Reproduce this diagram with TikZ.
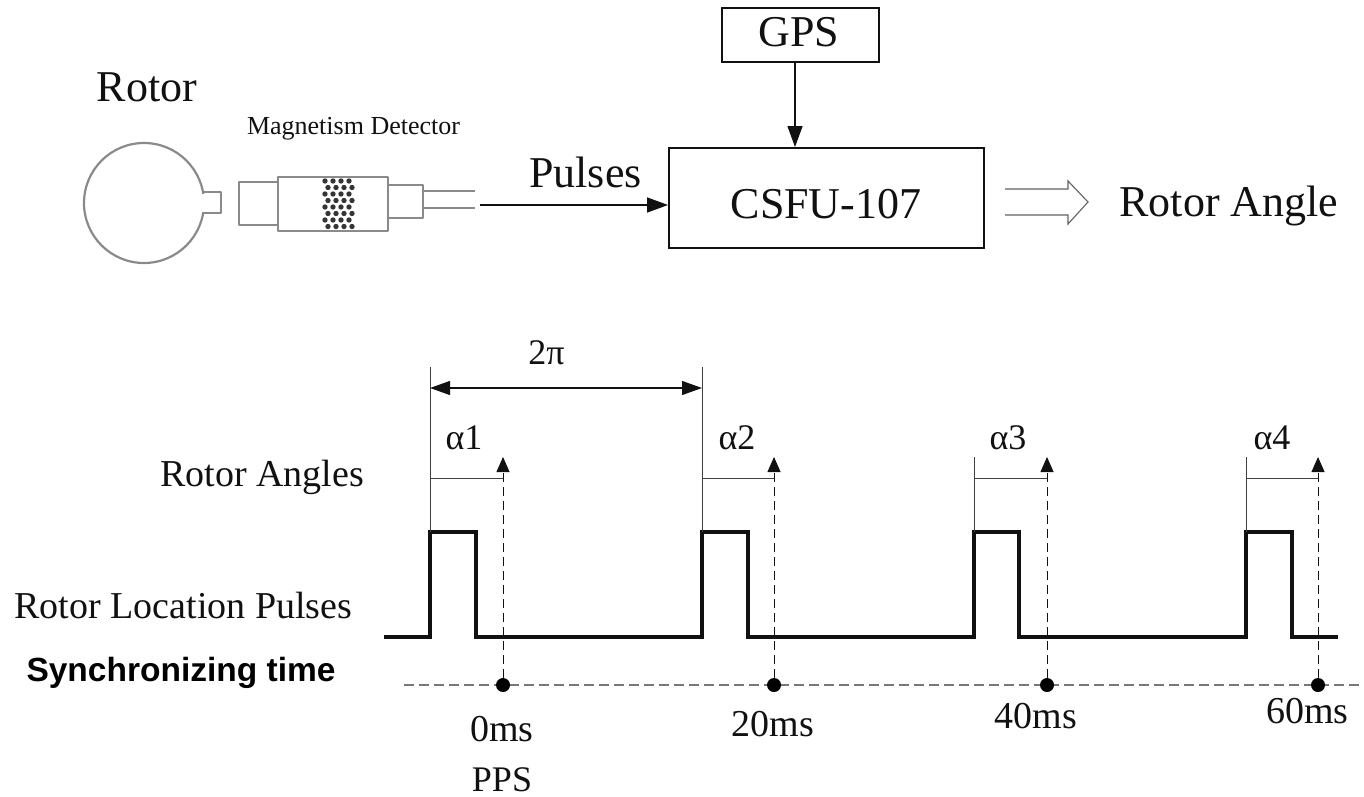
\documentclass[tikz,border=0pt]{standalone}
\usepackage{fontspec}
\setmainfont{Liberation Serif}
\newfontfamily\labelsans{Liberation Sans}
\usepackage{xcolor}
\usetikzlibrary{
  arrows.meta,
  positioning,
  calc
}
\definecolor{rsInk}{HTML}{111111}
\definecolor{rsPencil}{HTML}{8A8A8A}
\definecolor{rsDash}{HTML}{777777}
\tikzset{
  blockbox/.style={draw=rsInk, line width=1.9pt, inner sep=0pt, align=center},
  biglabel/.style={font=\fontsize{44}{44}\selectfont, inner sep=0pt, text=rsInk, anchor=base},
  midlabel/.style={font=\fontsize{38}{38}\selectfont, inner sep=0pt, text=rsInk, anchor=base},
  smalllabel/.style={font=\fontsize{36}{36}\selectfont, inner sep=0pt, text=rsInk, anchor=base},
  flow/.style={-{Triangle[length=21pt, width=15pt]}, line width=1.2pt, rsInk},
  sketch/.style={draw=rsPencil, line width=2.2pt, line join=round},
  pulse/.style={line width=3.6pt, rsInk, line join=miter},
  thinline/.style={line width=1pt, rsInk!80},
  guide/.style={line width=0.9pt, rsInk, dash pattern=on 9pt off 5pt},
  guidetip/.style={guide, -{Triangle[length=15pt, width=13pt]}},
  timeaxis/.style={line width=1.2pt, rsDash, dash pattern=on 10pt off 5pt},
  timedot/.style={circle, fill=black, inner sep=0pt, minimum size=14pt},
  span/.style={{Triangle[length=20pt, width=14pt]}-{Triangle[length=20pt, width=14pt]}, line width=1.2pt, rsInk}
}
\begin{document}
\begin{tikzpicture}[x=1pt, y=-1pt]
  \useasboundingbox (0,0) rectangle (1364,797);

  % top block diagram
  \node[blockbox, minimum width=157pt, minimum height=54pt] (gps) at (800.5,35) {};
  \node[blockbox, minimum width=315pt, minimum height=100pt] (csfu) at (826.5,198) {};
  \node[biglabel] (gpstext) at (799,47) {GPS};
  \node[biglabel] (csfutext) at (826,218) {CSFU-107};
  \coordinate (gpsout) at (795,62);
  \coordinate (pulsein) at (480,205);
  \draw[flow] (gpsout) -- (gpsout |- csfu.north);
  \draw[flow] (pulsein) -- (pulsein -| csfu.west);
  \node[biglabel] (pulses) at (585.5,187) {Pulses};
  \node[biglabel] (rotorangle) at (1229,216) {Rotor Angle};
  \node[biglabel] (rotor) at (147,102) {Rotor};
  \node[font=\fontsize{26}{26}\selectfont, inner sep=0pt, text=rsInk, anchor=base] (detector) at (353.5,135) {Magnetism Detector};

  % hollow output arrow
  \draw[line width=1.1pt, rsPencil!70!black, line join=miter]
    (1005,189) -- (1068,189) -- (1068,181) -- (1088,202) -- (1068,224) -- (1068,215) -- (1005,215);

  % rotor and detector sketch
  \draw[sketch] (200,192) -- (221,192) -- (221,213) -- (200,213);
  \draw[sketch, fill=white] (144,203) circle (60pt);
  \fill[white] (196,194) rectangle (206,212);
  \draw[sketch] (278,182) -- (239,182) -- (239,225) -- (278,225);
  \draw[sketch] (278,177) rectangle (388,231);
  \draw[sketch] (388,185) -- (423,185) -- (423,218) -- (388,218);
  \draw[sketch, line width=1.6pt] (423,191) -- (475,191);
  \draw[sketch, line width=1.6pt] (423,208) -- (475,208);
  \foreach \row in {0,...,7}{
    \foreach \col in {0,...,3}{
      \fill[rsInk!85] ({325+\col*8+mod(\row,2)*3},{181+\row*6.5}) circle (2.7pt);
    }
  }

  % pulse train
  \draw[pulse] (384,637) -- (430,637) -- (430,532) -- (476,532) -- (476,637)
    -- (702,637) -- (702,532) -- (748,532) -- (748,637)
    -- (974,637) -- (974,532) -- (1019,532) -- (1019,637)
    -- (1246,637) -- (1246,532) -- (1292,532) -- (1292,637) -- (1338,637);

  % time axis
  \coordinate (axisleft) at (404,685);
  \coordinate (axisright) at (1364,685);
  \draw[timeaxis] (axisleft) -- (axisright);

  % angle markers
  \foreach \n/\rise/\risetop/\dotx/\alphax in {1/430/367/503/464, 2/702/367/774/737, 3/974/457/1047/1008, 4/1246/457/1318/1272}{
    \node[timedot] (dot\n) at (\dotx,685) {};
    \coordinate (tip\n) at (\dotx,457);
    \coordinate (rise\n) at (\rise,478);
    \coordinate (risetop\n) at (\rise,\risetop);
    \coordinate (risefoot\n) at (\rise,532);
    \draw[guidetip] (dot\n) -- (tip\n);
    \draw[thinline] (rise\n) -- (rise\n -| dot\n);
    \draw[thinline] (risetop\n) -- (risefoot\n);
    \node[smalllabel] (alpha\n) at (\alphax,449) {α\n};
  }
  \coordinate (spanleft) at (430,388);
  \coordinate (spanright) at (702,388);
  \draw[span] (spanleft) -- (spanright);
  \node[smalllabel] (twopi) at (546.5,364) {2π};

  % left captions
  \node[midlabel] (anglecap) at (262,486) {Rotor Angles};
  \node[midlabel] (pulsecap) at (183.5,618) {Rotor Location Pulses};
  \node[font=\labelsans\bfseries\fontsize{33.5}{34}\selectfont, inner sep=0pt, text=black] (synccap) at (181,673) {Synchronizing time};

  % time labels
  \node[midlabel] (t0) at (502,741) {0ms};
  \node[midlabel, font=\fontsize{36}{36}\selectfont] (pps) at (502,791) {PPS};
  \node[midlabel] (t20) at (773,736) {20ms};
  \node[midlabel] (t40) at (1036,728) {40ms};
  \node[midlabel] (t60) at (1307.5,723) {60ms};
\end{tikzpicture}
\end{document}
